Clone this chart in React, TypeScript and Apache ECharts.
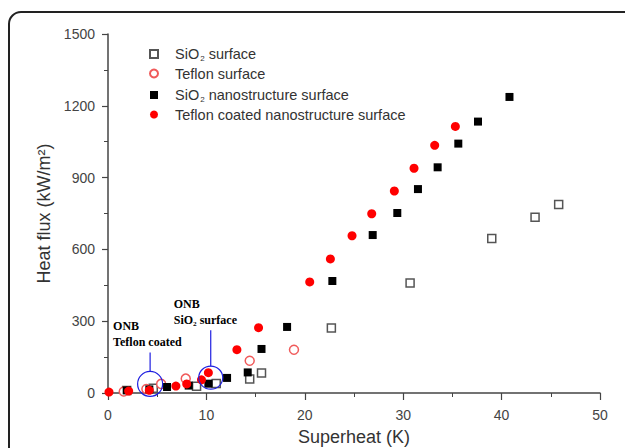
import React, { useEffect, useRef } from "react";
import * as echarts from "echarts";

// Superheat (K), Heat flux (kW/m2)
const sio2Surface: number[][] = [
  [1.9, 10], [4.6, 20], [9.0, 28], [11.0, 40], [14.4, 58], [15.6, 84],
  [22.7, 272], [30.7, 460], [39.0, 646], [43.4, 734], [45.8, 788],
];
const teflonSurface: number[][] = [
  [1.6, 6], [3.9, 17], [5.4, 38], [7.9, 60], [14.4, 135], [18.9, 181],
];
const sio2Nano: number[][] = [
  [1.9, 11], [4.2, 15], [6.0, 25], [8.2, 31], [10.2, 39], [12.1, 63],
  [14.2, 86], [15.6, 184], [18.2, 276], [22.8, 468], [26.9, 660],
  [29.4, 752], [31.5, 852], [33.5, 943], [35.6, 1042], [37.6, 1134], [40.8, 1237],
];
const teflonNano: number[][] = [
  [0.1, 4], [2.1, 8], [4.2, 11], [6.9, 29], [8.0, 38], [9.5, 55], [10.2, 85],
  [13.1, 181], [15.3, 273], [20.5, 464], [22.6, 560], [24.8, 657],
  [26.8, 749], [29.1, 844], [31.1, 939], [33.2, 1035], [35.3, 1114],
];

const seriesNames = [
  "SiO₂ surface",
  "Teflon surface",
  "SiO₂ nanostructure surface",
  "Teflon coated nanostructure surface",
];

const xTicks = { min: 0, max: 50, interval: 10 };
const yTicks = { min: 0, max: 1500, interval: 300 };

// ONB annotation centres (superheat, heat flux) and labels
const onbCenters: number[][] = [[4.28, 38], [10.44, 64]];
const onbLabels: string[][] = [["ONB", "Teflon coated"], ["ONB", "SiO₂ surface"]];

const FONT = "'Liberation Sans', Arial, sans-serif";
const SERIF = "'Liberation Serif', 'Times New Roman', serif";

export default function App() {
  const ref = useRef<HTMLDivElement>(null);

  useEffect(() => {
    if (!ref.current) return;
    const chart = echarts.init(ref.current, undefined, { renderer: "svg" });

    const legendFormatter = (name: string) => {
      const parts = name.split("₂");
      if (parts.length === 1) return `{n|${name}}`;
      return `{n|${parts[0]}}{s|2}{n|${parts[1]}}`;
    };

    chart.setOption({
      animation: false,
      backgroundColor: "#ffffff",
      grid: {
        left: 108, width: 492, top: 34, height: 359,
        containLabel: false, outerBoundsMode: "none",
      },
      legend: {
        orient: "vertical",
        left: 144,
        top: 39,
        itemWidth: 8,
        itemHeight: 8,
        itemGap: 4,
        data: seriesNames,
        formatter: legendFormatter,
        textStyle: {
          padding: [0, 0, 0, 12],
          rich: {
            n: { fontFamily: FONT, fontSize: 14.5, color: "#333", lineHeight: 16 },
            s: { fontFamily: FONT, fontSize: 8, color: "#333", lineHeight: 16, verticalAlign: "bottom", padding: [10, 0, 0, 1] },
          },
        },
      },
      xAxis: {
        type: "value",
        min: xTicks.min,
        max: xTicks.max,
        interval: xTicks.interval,
        name: "Superheat (K)",
        nameLocation: "middle",
        nameGap: 35,
        nameTextStyle: { fontFamily: FONT, fontSize: 18, color: "#333" },
        axisLine: { show: true, lineStyle: { color: "#444", width: 1.5 } },
        axisTick: { show: true, inside: false, length: 7, lineStyle: { color: "#444", width: 1.2 } },
        minorTick: { show: true, splitNumber: 2, length: 4, lineStyle: { color: "#444", width: 1 } },
        axisLabel: { fontFamily: FONT, fontSize: 14, color: "#444", margin: 15 },
        splitLine: { show: false },
      },
      yAxis: {
        type: "value",
        min: yTicks.min,
        max: yTicks.max,
        interval: yTicks.interval,
        name: "Heat flux (kW/m²)",
        nameLocation: "middle",
        nameGap: 48,
        nameTextStyle: { fontFamily: FONT, fontSize: 18, color: "#333" },
        axisLine: { show: true, lineStyle: { color: "#444", width: 1.5 } },
        axisTick: { show: true, inside: false, length: 6, lineStyle: { color: "#444", width: 1.2 } },
        minorTick: { show: true, splitNumber: 2, length: 4, lineStyle: { color: "#444", width: 1 } },
        axisLabel: { fontFamily: FONT, fontSize: 14, color: "#444", margin: 13, formatter: (v: number) => String(v) },
        splitLine: { show: false },
      },
      series: [
        {
          name: seriesNames[0],
          type: "scatter",
          data: sio2Surface,
          symbol: "rect",
          symbolSize: 8,
          itemStyle: { color: "#ffffff", borderColor: "#555", borderWidth: 1.5, opacity: 1 },
          z: 2,
        },
        {
          name: seriesNames[1],
          type: "scatter",
          data: teflonSurface,
          symbol: "circle",
          symbolSize: 9,
          itemStyle: { color: "#ffffff", borderColor: "#f05a5a", borderWidth: 1.5, opacity: 1 },
          z: 3,
        },
        {
          name: seriesNames[2],
          type: "scatter",
          data: sio2Nano,
          symbol: "rect",
          symbolSize: 8,
          itemStyle: { color: "#000000", opacity: 1 },
          z: 4,
        },
        {
          name: seriesNames[3],
          type: "scatter",
          data: teflonNano,
          symbol: "circle",
          symbolSize: 9,
          itemStyle: { color: "#ff0000", opacity: 1 },
          z: 5,
        },
      ],
    });

    const graphics: any[] = [
      {
        type: "rect",
        shape: { x: 9, y: 12, width: 700, height: 500, r: 12 },
        style: { fill: "none", stroke: "#222", lineWidth: 2 },
        silent: true,
        z: 100,
      },
    ];
    const radii = [[12.5, 12.5], [12, 11.5]];
    const lineLens = [19, 36];
    onbCenters.forEach((c, i) => {
      const p = chart.convertToPixel({ gridIndex: 0 }, c) as number[];
      const [rx, ry] = radii[i];
      const topY = p[1] - ry;
      const lineTop = topY - lineLens[i];
      graphics.push({
        type: "ellipse",
        shape: { cx: p[0], cy: p[1], rx, ry },
        style: { fill: "none", stroke: "#1f1fe0", lineWidth: 1.2 },
        z: 50,
      });
      graphics.push({
        type: "line",
        shape: { x1: p[0], y1: topY, x2: p[0], y2: lineTop },
        style: { stroke: "#1f1fe0", lineWidth: 1.2 },
        z: 50,
      });
      graphics.push({
        type: "text",
        x: p[0] - 37,
        y: lineTop - 2,
        style: {
          text: onbLabels[i].join("\n"),
          font: `bold 12px ${SERIF}`,
          fill: "#000",
          lineHeight: 16,
          textAlign: "left",
          textVerticalAlign: "bottom",
        },
        z: 50,
      });
    });
    chart.setOption({ graphic: graphics });

    return () => chart.dispose();
  }, []);

  return (
    <div
      ref={ref}
      style={{ position: "fixed", left: 0, top: 0, width: 625, height: 448 }}
    />
  );
}
